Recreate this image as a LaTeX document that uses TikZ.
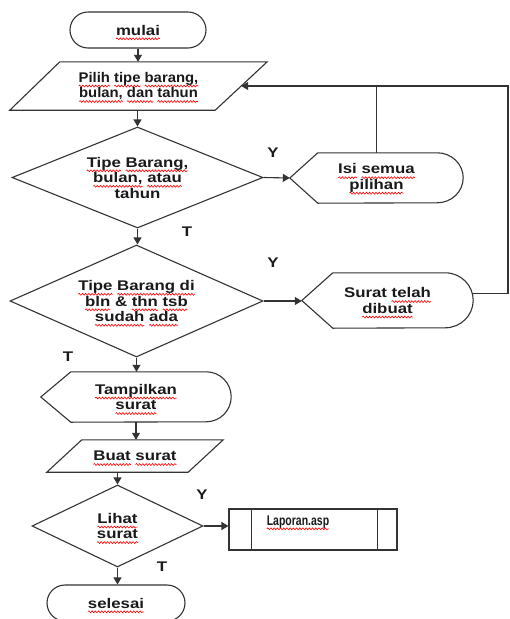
\documentclass[tikz,border=0pt]{standalone}
\usepackage{fontspec}
\usetikzlibrary{shapes.geometric,shapes.misc,arrows.meta,calc,decorations.pathmorphing}
\newfontfamily\fA{Liberation Sans}[FakeStretch=1.2]
\newfontfamily\fP{Liberation Sans}[FakeStretch=1.06]
\newfontfamily\fL{Liberation Sans}[FakeStretch=0.75]
\newsavebox\sqbox
\newdimen\sqw
\newcommand\sq[1]{\sbox\sqbox{#1}\sqw=\wd\sqbox\rlap{\tikz[overlay,baseline=0pt]\draw[red,line width=0.6pt,decorate,decoration={snake,amplitude=0.95pt,segment length=3.2pt}] (0pt,-3.8pt) -- (\sqw,-3.8pt);}\usebox\sqbox}
\newcommand\dispshape[4]{\draw[shp] ([xshift=#2]#1.north west) -- ([xshift=-#3]#1.north east) arc[start angle=90,end angle=-90,x radius=#3,y radius=#4] -- ([xshift=#2]#1.south west) -- (#1.west) -- cycle;}
\begin{document}
\begin{tikzpicture}[x=1pt,y=1pt,
  shp/.style={draw=black!80, line width=1.1pt},
  arr/.style={draw=black!80, line width=1.1pt, -{Triangle[length=7pt,width=8pt]}},
  txt/.style={font=\fA\bfseries\fontsize{14}{15.5}\selectfont, align=center, inner sep=0pt, text=black!90},
  term/.style={txt, shp, rounded rectangle},
  dec/.style={txt, shp, diamond, aspect=2.4},
  lbl/.style={font=\fA\bfseries\fontsize{14}{15.5}\selectfont, inner sep=0pt, text=black!90}]
\useasboundingbox (0,0) rectangle (510,-619);
\clip (0,0) rectangle (510,-619);

% nodes
\node[term, minimum width=136, minimum height=36] (mulai) at (138,-30) {\sq{mulai}};
\node[txt, font=\fP\bfseries\fontsize{14}{15.5}\selectfont, minimum width=257, minimum height=48] (pilih) at (138.5,-86) {\sq{Pilih} \sq{tipe} \sq{barang,}\\\sq{bulan,} \sq{dan} \sq{tahun}};
\draw[shp] ([xshift=50]pilih.north west) -- (pilih.north east) -- ([xshift=-52]pilih.south east) -- (pilih.south west) -- cycle;
\coordinate (pilihR) at ($(pilih.north east)!.5!([xshift=-52]pilih.south east)$);

\node[dec, minimum width=251, minimum height=101] (d1) at (137.5,-177.5) {\sq{Tipe} \sq{Barang,}\\\sq{bulan,} \sq{atau}\\tahun};
\node[txt, minimum width=173, minimum height=50] (isi) at (376.5,-178) {\sq{Isi} \sq{semua}\\\sq{pilihan}};
\dispshape{isi}{28}{26}{25}

\node[dec, minimum width=253, minimum height=112] (d2) at (136.5,-301) {\sq{Tipe} \sq{Barang di}\\\sq{bln} \& \sq{thn} \sq{tsb}\\\sq{sudah} \sq{ada}};
\node[txt, minimum width=171, minimum height=55] (surat) at (387.5,-300.5) {Surat \sq{telah}\\\sq{dibuat}};
\dispshape{surat}{31}{28}{27.5}

\node[txt, minimum width=190, minimum height=50] (tamp) at (136,-397) {\sq{Tampilkan}\\\sq{surat}};
\dispshape{tamp}{30}{25}{25}

\node[txt, minimum width=176, minimum height=32] (buat) at (135,-456) {\sq{Buat} \sq{surat}};
\draw[shp] ([xshift=35]buat.north west) -- (buat.north east) -- ([xshift=-35]buat.south east) -- (buat.south west) -- cycle;

\node[dec, minimum width=171, minimum height=82] (lihat) at (117.5,-526) {\sq{Lihat}\\\sq{surat}};
\node[shp, font=\fL\bfseries\fontsize{14}{15}\selectfont, text=black!90, inner sep=0pt, minimum width=168, text height=16, text depth=25] (lap) at (313,-529.5) {\sq{Laporan.asp}\hspace*{30pt}};
\draw[shp] ([xshift=23]lap.north west) -- ([xshift=23]lap.south west);
\draw[shp] ([xshift=-20]lap.north east) -- ([xshift=-20]lap.south east);

\node[term, minimum width=138, minimum height=36] (selesai) at (116,-603) {\sq{selesai}};

% labels
\node[lbl] (y1) at (273,-153) {Y};
\node[lbl] (t1) at (187,-232) {T};
\node[lbl] (y2) at (273,-263) {Y};
\node[lbl] (t2) at (68,-357) {T};
\node[lbl] (y3) at (202,-495) {Y};
\node[lbl] (t3) at (162,-567) {T};

% connectors
\draw[arr] (mulai.south) -- (mulai.south |- pilih.north);
\draw[arr] (d1.north |- pilih.south) -- (d1.north);
\draw[arr] (d1.east) -- (isi.west);
\draw[arr] (d1.south) -- (d1.south |- d2.north);
\draw[arr] (d2.east) -- (d2.east -| surat.west);
\draw[arr] (d2.south) -- (d2.south |- tamp.north);
\draw[arr] (tamp.south) -- (tamp.south |- buat.north);
\draw[arr] (lihat.north |- buat.south) -- (lihat.north);
\draw[arr] (lihat.east) -- (lihat.east -| lap.west);
\draw[arr] (lihat.south) -- (lihat.south |- selesai.north);
\coordinate (sr) at ($(surat.east)+(-1,7)$);
\coordinate (rx) at (508,0);
\draw[arr] (sr) -- (sr -| rx) |- (pilihR);
\draw[shp] (isi.north) -- (isi.north |- pilihR);
\end{tikzpicture}
\end{document}
